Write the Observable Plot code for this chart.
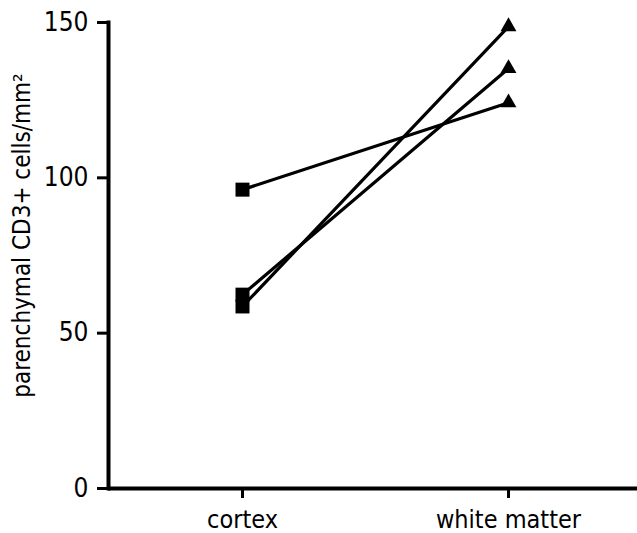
<!DOCTYPE html>
<html>
<head>
<meta charset="utf-8">
<script src="https://cdn.jsdelivr.net/npm/d3@7"></script>
<script src="https://cdn.jsdelivr.net/npm/@observablehq/plot@0.6"></script>
<style>
  html, body { margin: 0; padding: 0; background: #fff; }
  #chart { width: 637px; height: 533px; }
</style>
</head>
<body>
<div id="chart"></div>
<script>
const regions = ["cortex", "white matter"];
const subjects = ["A", "B", "C"];
const cortexValues = [96.2, 62.4, 58.6];
const whiteMatterValues = [124.2, 135.2, 148.7];
const yTicks = [0, 50, 100, 150];
const yLabel = "parenchymal CD3+ cells/mm²";

const rows = subjects.flatMap((s, i) => [
  {subject: s, region: regions[0], value: cortexValues[i]},
  {subject: s, region: regions[1], value: whiteMatterValues[i]}
]);

const font = "'DejaVu Sans Condensed', 'Liberation Sans', sans-serif";

const chart = Plot.plot({
  width: 637,
  height: 533,
  marginLeft: 108,
  marginRight: 0,
  marginTop: 22,
  marginBottom: 45,
  style: {fontFamily: font, color: "#000", background: "#fff", overflow: "visible"},
  x: {type: "point", domain: regions, range: [242, 508], padding: 0},
  y: {domain: [0, 150]},
  marks: [
    Plot.axisY({ticks: yTicks, tickSize: 11, tickPadding: 9, strokeWidth: 3, fontSize: 26, label: null}),
    Plot.axisX({tickSize: 10, tickPadding: 12, strokeWidth: 3, fontSize: 25, label: null}),
    Plot.frame({anchor: "left", strokeWidth: 4}),
    Plot.ruleY([0], {strokeWidth: 4}),
    Plot.text([yLabel], {frameAnchor: "left", textAnchor: "middle", dx: -86, dy: -20, rotate: -90, fontSize: 24, fill: "#000"}),
    Plot.line(rows, {x: "region", y: "value", z: "subject", stroke: "#000", strokeWidth: 3.2}),
    Plot.dot(rows.filter(d => d.region === regions[0]), {x: "region", y: "value", symbol: "square", r: 7.9, fill: "#000", stroke: "none"}),
    Plot.dot(rows.filter(d => d.region === regions[1]), {x: "region", y: "value", symbol: "triangle", r: 5.9, fill: "#000", stroke: "none"})
  ]
});
document.getElementById("chart").appendChild(chart);
</script>
</body>
</html>
